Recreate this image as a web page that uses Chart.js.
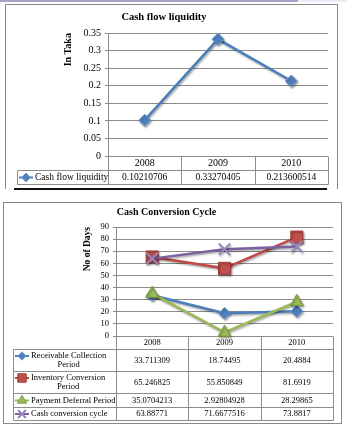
<!DOCTYPE html>
<html>
<head>
<meta charset="utf-8">
<script src="https://cdn.jsdelivr.net/npm/chart.js@4.4.1/dist/chart.umd.min.js"></script>
<style>
  html, body { margin: 0; padding: 0; background: #fff; }
  body { position: relative; width: 347px; height: 429px; overflow: hidden; }
  canvas { position: absolute; left: 0; }
  .frame { position: absolute; box-sizing: border-box; border: 1px solid #8a8a8a; }
  .bar { position: absolute; }
</style>
</head>
<body>
<div class="bar" style="left:0;top:0;width:298px;height:2px;background:#a3a3cc"></div>
<div class="bar" style="left:298px;top:0;width:49px;height:2px;background:#e6ecf3"></div>
<div class="frame" style="left:5px;top:4px;width:333px;height:185px;border-bottom:none"></div>
<div class="bar" style="left:14px;top:188px;width:313px;height:2px;background:#111"></div>
<div class="frame" style="left:3px;top:202px;width:339px;height:222px"></div>

<canvas id="liquidity" width="347" height="195" style="top:0"></canvas>
<canvas id="cycle" width="347" height="234" style="top:195px"></canvas>

<script>
// --- data ---
const years = ['2008', '2009', '2010'];
const cashFlowLiquidity = [0.10210706, 0.33270405, 0.213600514];

const receivablePeriod = [33.711309, 18.74495, 20.4884];
const inventoryPeriod = [65.246825, 55.850849, 81.6919];
const paymentDeferral = [35.0704213, 2.92804928, 28.29865];
const conversionCycle = [63.88771, 71.6677516, 73.8817];

const serif = '"Liberation Serif", "Times New Roman", serif';

// soft drop shadow under lines and markers
const markerShadow = {
    id: 'markerShadow',
    beforeDatasetsDraw(chart) {
        const c = chart.ctx;
        c.save();
        c.shadowColor = 'rgba(0,0,0,0.35)';
        c.shadowBlur = 2;
        c.shadowOffsetX = 1;
        c.shadowOffsetY = 1.5;
    },
    afterDatasetsDraw(chart) {
        chart.ctx.restore();
    }
};

// Excel-style data table under the plot, one row per dataset
const dataTable = {
    id: 'dataTable',
    afterDraw(chart, args, opts) {
        const { ctx, chartArea } = chart;
        const xs = chart.scales.x;
        const labels = chart.data.labels;
        const left = Math.round(chartArea.left) + 0.5;
        const right = Math.round(chartArea.right) + 0.5;
        const top = Math.round(chartArea.bottom) + 0.5;
        const half = (xs.getPixelForValue(1) - xs.getPixelForValue(0)) / 2;

        const edges = labels.map((l, i) => Math.round(xs.getPixelForValue(i) - half) + 0.5);
        edges.push(right);

        const ys = [top + opts.headerHeight];
        opts.rowHeights.forEach(h => ys.push(ys[ys.length - 1] + h));
        const bottom = ys[ys.length - 1];
        const keyLeft = opts.keyLeft + 0.5;

        ctx.save();
        ctx.strokeStyle = opts.lineColor;
        ctx.lineWidth = 1;
        ctx.beginPath();
        edges.forEach(x => { ctx.moveTo(x, top); ctx.lineTo(x, bottom); });
        ctx.moveTo(keyLeft, ys[0]);
        ctx.lineTo(keyLeft, bottom);
        ys.forEach(y => { ctx.moveTo(keyLeft, y); ctx.lineTo(right, y); });
        ctx.stroke();

        ctx.fillStyle = opts.textColor;
        ctx.textBaseline = 'middle';
        ctx.textAlign = 'center';
        ctx.font = opts.headerFont;
        labels.forEach((l, i) => ctx.fillText(l, xs.getPixelForValue(i), top + opts.headerHeight / 2));

        chart.data.datasets.forEach((ds, r) => {
            const mid = (ys[r] + ys[r + 1]) / 2;
            ctx.font = opts.cellFont;
            ctx.fillStyle = opts.textColor;
            ctx.textAlign = 'center';
            ds.data.forEach((v, i) => ctx.fillText(String(v), xs.getPixelForValue(i), mid));

            // legend key: line stub + marker + name
            const lines = opts.keyLabels[r];
            const y0 = mid - (lines.length - 1) * opts.keyLineHeight / 2;
            ctx.save();
            ctx.strokeStyle = ds.borderColor;
            ctx.lineWidth = 2;
            ctx.beginPath();
            ctx.moveTo(opts.keyLine[0], y0);
            ctx.lineTo(opts.keyLine[1], y0);
            ctx.stroke();
            ctx.fillStyle = ds.pointBackgroundColor;
            ctx.strokeStyle = ds.pointBorderColor;
            ctx.lineWidth = ds.pointBorderWidth;
            Chart.helpers.drawPoint(ctx, {
                pointStyle: ds.pointStyle,
                radius: ds.pointRadius * opts.keyScale,
                rotation: 0,
                borderWidth: ds.pointBorderWidth
            }, (opts.keyLine[0] + opts.keyLine[1]) / 2, y0);
            ctx.restore();

            ctx.font = opts.keyFont;
            ctx.fillStyle = opts.textColor;
            const w0 = ctx.measureText(lines[0]).width;
            ctx.textAlign = 'center';
            lines.forEach((line, k) => {
                ctx.fillText(line, opts.keyTextX + w0 / 2, y0 + k * opts.keyLineHeight);
            });
        });
        ctx.restore();
    }
};

function valueAxis(width, max, step, fontSize, title, titleSize, titleOffset, fmt) {
    return {
        min: 0,
        max: max,
        afterFit: s => { s.width = width; },
        ticks: {
            stepSize: step,
            autoSkip: false,
            font: { family: serif, size: fontSize },
            color: '#000',
            padding: 4,
            callback: fmt
        },
        grid: { color: '#8c8c8c', lineWidth: 1, tickLength: 3 },
        border: { color: '#8c8c8c' },
        title: {
            display: true,
            text: title,
            align: 'end',
            color: '#000',
            font: { family: serif, size: titleSize, weight: 'bold', lineHeight: 1.2 },
            padding: { top: titleOffset, bottom: 0 }
        }
    };
}

// --- Cash flow liquidity ---
new Chart(document.getElementById('liquidity'), {
    type: 'line',
    data: {
        labels: years,
        datasets: [{
            label: 'Cash flow liquidity',
            data: cashFlowLiquidity,
            borderColor: '#4a7ebb',
            borderWidth: 2.5,
            pointStyle: 'rectRot',
            pointRadius: 6,
            pointBackgroundColor: '#4f81bd',
            pointBorderColor: '#6f9bd0',
            pointBorderWidth: 1,
            tension: 0,
            clip: false
        }]
    },
    options: {
        responsive: false,
        animation: false,
        layout: { padding: { left: 0, right: 19, top: 0, bottom: 39 } },
        plugins: {
            legend: { display: false },
            tooltip: { enabled: false },
            title: {
                display: true,
                text: 'Cash flow liquidity',
                color: '#000',
                font: { family: serif, size: 10.5, weight: 'bold', lineHeight: 1.15 },
                padding: { top: 11, bottom: 10 }
            },
            dataTable: {
                headerHeight: 14,
                rowHeights: [14],
                keyLeft: 17,
                keyLine: [19, 33],
                keyTextX: 35,
                keyScale: 0.75,
                keyLineHeight: 9,
                keyLabels: [['Cash flow liquidity']],
                lineColor: '#8c8c8c',
                textColor: '#000',
                headerFont: '10px ' + serif,
                cellFont: '9.5px ' + serif,
                keyFont: '9.5px ' + serif
            }
        },
        scales: {
            x: { display: false, offset: true },
            y: valueAxis(108, 0.35, 0.05, 10, 'In Taka', 10, 62, v => String(+v.toFixed(2)))
        }
    },
    plugins: [markerShadow, dataTable]
});

// --- Cash Conversion Cycle ---
new Chart(document.getElementById('cycle'), {
    type: 'line',
    data: {
        labels: years,
        datasets: [{
            label: 'Receivable Collection Period',
            data: receivablePeriod,
            borderColor: '#4a7ebb',
            borderWidth: 2.5,
            pointStyle: 'rectRot',
            pointRadius: 6,
            pointBackgroundColor: '#4f81bd',
            pointBorderColor: '#6f9bd0',
            pointBorderWidth: 1,
            order: 4
        }, {
            label: 'Inventory Conversion Period',
            data: inventoryPeriod,
            borderColor: '#be4b48',
            borderWidth: 2.5,
            pointStyle: 'rect',
            pointRadius: 8.5,
            pointBackgroundColor: '#c0504d',
            pointBorderColor: '#9e3a37',
            pointBorderWidth: 1,
            order: 3
        }, {
            label: 'Payment Deferral Period',
            data: paymentDeferral,
            borderColor: '#98b954',
            borderWidth: 2.5,
            pointStyle: 'triangle',
            pointRadius: 7.5,
            pointBackgroundColor: '#9bbb59',
            pointBorderColor: '#7f9a45',
            pointBorderWidth: 1,
            order: 2
        }, {
            label: 'Cash conversion cycle',
            data: conversionCycle,
            borderColor: '#7d60a0',
            borderWidth: 2.5,
            pointStyle: 'crossRot',
            pointRadius: 8,
            pointBackgroundColor: '#8f7ab5',
            pointBorderColor: '#9a86c0',
            pointBorderWidth: 2,
            order: 1
        }]
    },
    options: {
        responsive: false,
        animation: false,
        datasets: { line: { tension: 0, clip: false } },
        layout: { padding: { left: 0, right: 14, top: 0, bottom: 93 } },
        plugins: {
            legend: { display: false },
            tooltip: { enabled: false },
            title: {
                display: true,
                text: 'Cash Conversion Cycle',
                color: '#000',
                font: { family: serif, size: 10, weight: 'bold', lineHeight: 1.2 },
                padding: { top: 11, bottom: 9 }
            },
            dataTable: {
                headerHeight: 13,
                rowHeights: [22, 22, 14, 13],
                keyLeft: 13,
                keyLine: [15, 29],
                keyTextX: 31,
                keyScale: 0.7,
                keyLineHeight: 9,
                keyLabels: [
                    ['Receivable Collection', 'Period'],
                    ['Inventory Conversion', 'Period'],
                    ['Payment Deferral Period'],
                    ['Cash conversion cycle']
                ],
                lineColor: '#8c8c8c',
                textColor: '#000',
                headerFont: '8.5px ' + serif,
                cellFont: '8.5px ' + serif,
                keyFont: '8.5px ' + serif
            }
        },
        scales: {
            x: { display: false, offset: true },
            y: valueAxis(116, 90, 10, 8.5, 'No of Days', 9.5, 82, v => String(v))
        }
    },
    plugins: [markerShadow, dataTable]
});
</script>
</body>
</html>
